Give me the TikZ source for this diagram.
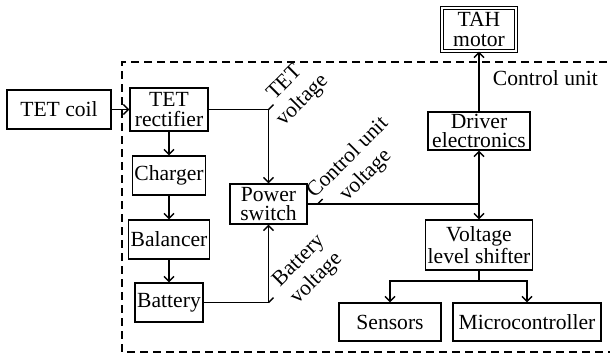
\documentclass[tikz,border=0pt]{standalone}
\usepackage{fontspec}
\setmainfont{Liberation Serif}
\usetikzlibrary{arrows.meta}

\begin{document}
\begin{tikzpicture}[
  x=0.5pt, y=-0.5pt,
  font=\fontsize{10.8}{9.6}\selectfont, >={Straight Barb[length=2.5pt,width=5pt]},
  blk/.style={draw, line width=0.7pt, align=center, inner sep=1pt, minimum height=19.5pt},
  arr/.style={->, line width=0.7pt},
  wire/.style={line width=0.7pt},
  tag/.style={rotate=45, align=center, inner sep=0pt, font=\fontsize{10.8}{12.5}\selectfont},
]
\useasboundingbox (0,0) rectangle (610,355);
% control unit frame, its right edge runs off the page
\draw[dash pattern=on 4pt off 2.5pt, line width=0.7pt] (620,62) -- (122,62) -- (122,352) -- (620,352);
\node[anchor=east] (cu) at (605,78) {Control unit};

% power path on the left
\node[blk, minimum width=52pt] (coil) at (59,109.5) {TET coil};
\node[blk, minimum width=39pt, minimum height=21.5pt] (rect) at (169,109.5) {TET\\rectifier};
\node[blk, minimum width=36.5pt] (chg) at (169,175.5) {Charger};
\node[blk, minimum width=38pt] (bal) at (169,239.5) {Balancer};
\node[blk, minimum width=34pt] (bat) at (169,302.5) {Battery};
\node[blk, minimum width=38.5pt, minimum height=20pt] (psw) at (268.5,204) {Power\\switch};

% motor side on the right
\node[draw, double, double distance=1pt, line width=0.6pt, align=center, inner sep=1pt,
      minimum width=37pt, minimum height=21.5pt] (tah) at (479,29.5) {TAH\\motor};
\node[blk, minimum width=51pt, minimum height=19pt] (drv) at (479,131) {Driver\\electronics};
\node[blk, minimum width=51pt, minimum height=25pt] (vls) at (479,245) {Voltage\\level shifter};
\node[blk, minimum width=51pt, minimum height=19pt] (sen) at (390,322) {Sensors};
\node[blk, minimum width=74pt, minimum height=19pt] (mcu) at (527,322) {Microcontroller};

% junctions
\coordinate (tetj) at (268.5,109.5);
\coordinate (batj) at (268.5,302.5);
\coordinate (cuj) at (479,204);
\coordinate (fork) at (479,281);

% chain through charger and balancer
\draw[arr] (coil) -- (rect);
\draw[arr] (rect) -- (chg);
\draw[arr] (chg) -- (bal);
\draw[arr] (bal) -- (bat);

% TET and battery voltages into the power switch
\draw[wire] (rect.east) -- (tetj);
\draw[arr] (tetj) -- (psw.north);
\draw[wire] (bat.east) -- (batj);
\draw[arr] (batj) -- (psw.south);
\draw[wire] (tetj) -- ++(5,-5);
\draw[wire] (batj) -- ++(5,-5);
\node[tag] (tetv) at (294,92) {TET\\voltage};
\node[tag] (batv) at (308,270) {Battery\\voltage};

% control unit voltage out of the power switch
\draw[wire] (psw.east) -- (cuj);
\draw[wire] (psw.east) ++(10,0) -- ++(5,-5);
\node[tag] (cuv) at (357,167) {Control unit\\voltage};
\draw[arr] (cuj) -- (drv.south);
\draw[arr] (cuj) -- (vls.north);
\draw[arr] (drv.north) -- (tah.south);

% level shifter feeds sensors and microcontroller
\draw[wire] (vls.south) -- (fork);
\draw[arr] (fork) -| (sen.north);
\draw[arr] (fork) -| (mcu.north);
\end{tikzpicture}
\end{document}
